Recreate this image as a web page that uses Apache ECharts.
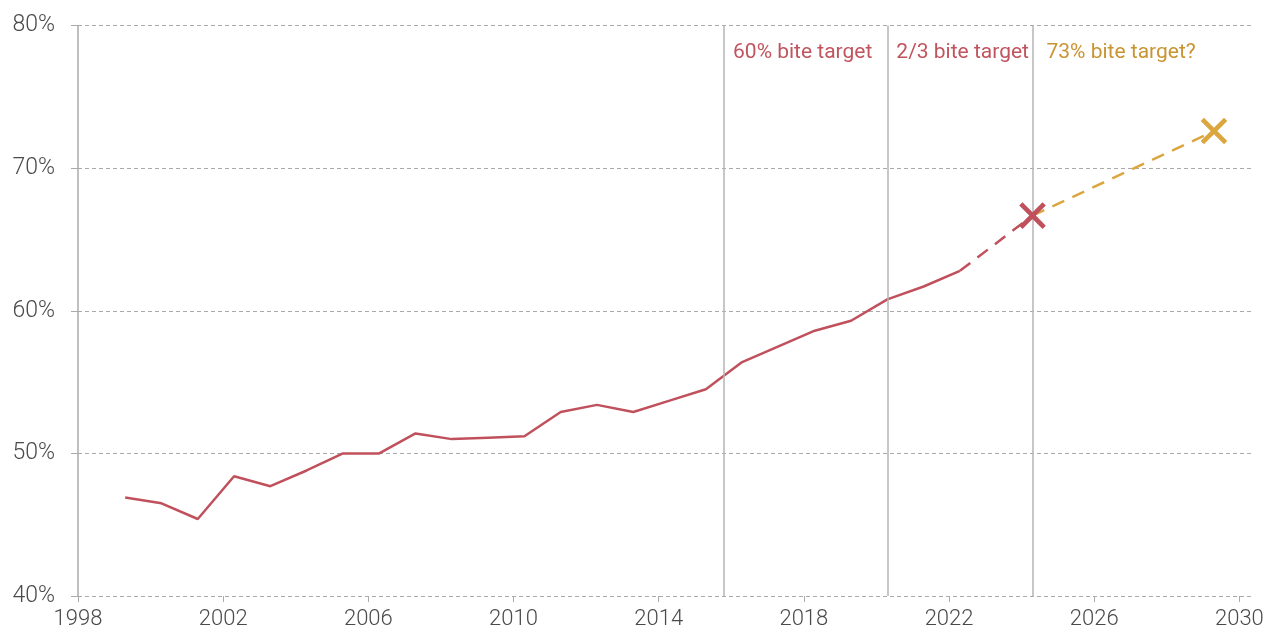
<!DOCTYPE html>
<html>
<head>
<meta charset="utf-8">
<script src="https://cdn.jsdelivr.net/npm/echarts@6/dist/echarts.min.js"></script>
<style>
  html, body { margin: 0; padding: 0; background: #fff; }
  #chart { width: 1268px; height: 633px; }
</style>
</head>
<body>
<div id="chart"></div>
<script>
// minimum wage bite, actual
var years = [1999.3, 2000.3, 2001.3, 2002.3, 2003.3, 2004.3, 2005.3, 2006.3, 2007.3, 2008.3,
             2009.3, 2010.3, 2011.3, 2012.3, 2013.3, 2014.3, 2015.3, 2016.3, 2017.3, 2018.3,
             2019.3, 2020.3, 2021.3, 2022.3];
var bite = [46.9, 46.5, 45.4, 48.4, 47.7, 48.8, 50.0, 50.0, 51.4, 51.0,
            51.1, 51.2, 52.9, 53.4, 52.9, 53.7, 54.5, 56.4, 57.5, 58.6,
            59.3, 60.8, 61.7, 62.8];

// path to the 2/3 target, then the possible 73% target
var toTwoThirds = [[2022.3, 62.8], [2024.3, 66.67]];
var toNext = [[2024.3, 66.67], [2029.3, 72.6]];

// when each target was set
var targetYears = [2015.8, 2020.3, 2024.3];
var targetNames = ['60% bite target', '2/3 bite target', '73% bite target?'];

var tickYears = [1998, 2002, 2006, 2010, 2014, 2018, 2022, 2026, 2030];

var RED = '#c0515c';
var GOLD = '#dca63e';
var RED_TXT = '#c0555f';
var GOLD_TXT = '#c99432';
var CROSS = 'path://M4.3,0 H5.7 V4.3 H10 V5.7 H5.7 V10 H4.3 V5.7 H0 V4.3 H4.3 Z';

var chart = echarts.init(document.getElementById('chart'));

var labelData = targetYears.map(function (y, i) {
    return {
        value: [y, 78.1],
        label: {
            formatter: targetNames[i],
            color: i === 2 ? GOLD_TXT : RED_TXT,
            distance: i === 2 ? 14 : 9
        }
    };
});

chart.setOption({
    animation: false,
    grid: { left: 78, right: 17, top: 25.5, bottom: 37 },
    xAxis: {
        type: 'value',
        min: 1998,
        max: 2030.32,
        interval: 4,
        axisLine: { show: false },
        axisTick: { show: true, length: 6, customValues: tickYears, lineStyle: { color: '#aaa' } },
        axisLabel: {
            customValues: tickYears,
            formatter: function (v) { return String(v); },
            color: '#4a4a4a', fontSize: 22, fontFamily: 'Roboto', fontWeight: 300, margin: 12
        },
        splitLine: { show: false }
    },
    yAxis: {
        type: 'value',
        min: 40,
        max: 80,
        interval: 10,
        axisLine: { show: true, lineStyle: { color: '#aaa', width: 1.5 } },
        axisTick: { show: true, length: 7, lineStyle: { color: '#aaa' } },
        axisLabel: {
            formatter: '{value}%',
            color: '#4a4a4a', fontSize: 23, fontFamily: 'Roboto', fontWeight: 300, margin: 23
        },
        splitLine: { show: true, lineStyle: { color: '#aaa', type: [4, 3], width: 1 } }
    },
    series: [
        {
            type: 'line',
            data: years.map(function (y, i) { return [y, bite[i]]; }),
            symbol: 'none',
            lineStyle: { color: RED, width: 2.5 },
            z: 3,
            markLine: {
                silent: true,
                symbol: 'none',
                label: { show: false },
                lineStyle: { color: '#b5b5b5', type: 'solid', width: 1.5 },
                data: targetYears.map(function (y) { return { xAxis: y }; })
            }
        },
        {
            type: 'line',
            data: toTwoThirds,
            symbol: 'none',
            lineStyle: { color: RED, width: 2.5, type: [13, 9] },
            z: 3
        },
        {
            type: 'line',
            data: toNext,
            symbol: 'none',
            lineStyle: { color: GOLD, width: 2.5, type: [13, 9] },
            z: 3
        },
        {
            type: 'scatter',
            data: [toNext[0]],
            symbol: CROSS,
            symbolSize: 33,
            symbolRotate: 45,
            itemStyle: { color: RED, opacity: 1 },
            z: 5
        },
        {
            type: 'scatter',
            data: [toNext[1]],
            symbol: CROSS,
            symbolSize: 33,
            symbolRotate: 45,
            itemStyle: { color: GOLD, opacity: 1 },
            z: 5
        },
        {
            type: 'scatter',
            data: labelData,
            symbolSize: 0,
            silent: true,
            itemStyle: { opacity: 1 },
            label: {
                show: true,
                position: 'right',
                fontSize: 21,
                fontFamily: 'Roboto',
                fontWeight: 'normal'
            }
        }
    ]
});
</script>
</body>
</html>
